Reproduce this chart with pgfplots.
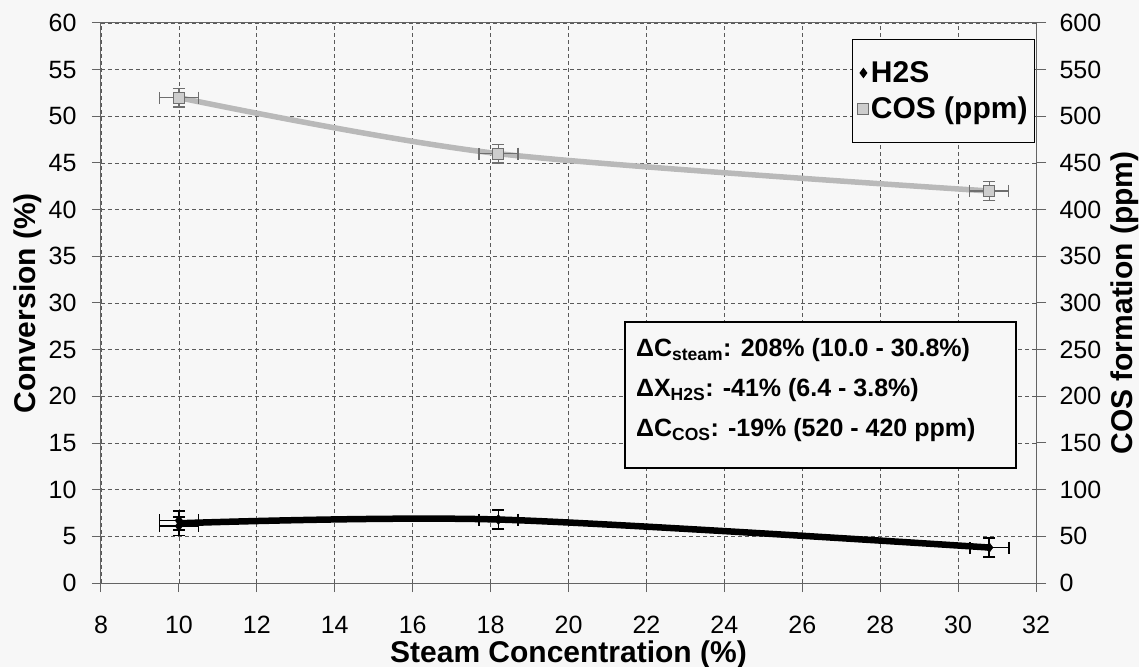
\documentclass[border=0pt]{standalone}
\usepackage{fontspec}
\setmainfont{Liberation Sans}
\usepackage{pgfplots}
\pgfplotsset{compat=1.18}
\usepackage{pgfplotstable}

\definecolor{bg}{RGB}{247,247,247}
\definecolor{gridc}{RGB}{90,90,90}
\definecolor{axisc}{RGB}{100,100,100}
\definecolor{cosline}{RGB}{185,185,185}
\definecolor{cosmark}{RGB}{205,205,205}
\definecolor{coserr}{RGB}{110,110,110}

% steam concentration (%), value, x error, y error
\pgfplotstableread{
x     y     ex    ey
10.0  6.7   0.5   1.0
10.0  6.1   0.5   1.0
18.2  6.8   0.5   1.0
30.8  3.8   0.5   1.0
}\hstable

\pgfplotstableread{
x     y     ex    ey
10.0  520   0.5   10
18.2  460   0.5   10
30.8  420   0.5   10
}\costable

\newcommand{\tickfont}{\fontsize{25bp}{27bp}\selectfont}
\newcommand{\labfont}{\fontsize{30bp}{32bp}\selectfont\bfseries}
\newcommand{\boxfont}{\fontsize{25bp}{27bp}\selectfont\bfseries}

\begin{document}
\begin{tikzpicture}
\path[use as bounding box, fill=bg] (-101bp,-84bp) rectangle (1038bp,583bp);

\begin{axis}[
  scale only axis,
  width=935bp, height=560bp,
  xmin=8, xmax=32, ymin=0, ymax=60,
  xtick={8,10,...,32},
  ytick={0,5,...,60},
  axis x line*=bottom,
  axis y line*=left,
  axis line style={axisc, line width=1bp, -},
  tick align=outside,
  major tick length=9bp,
  tick style={axisc, line width=1bp},
  grid=major,
  grid style={gridc, dash pattern=on 4bp off 3bp, line width=0.8bp},
  /pgf/number format/assume math mode=true,
  ticklabel style={font=\tickfont},
  xticklabel style={yshift=-21bp},
  yticklabel style={xshift=-12bp},
  xlabel={Steam Concentration (\%)},
  ylabel={Conversion (\%)},
  label style={font=\labfont},
  xlabel style={at={(axis description cs:0.5,-0.128)}, anchor=center},
  ylabel style={at={(axis description cs:-0.078,0.5)}, anchor=center},
  clip=false,
]
% frame along the top
\draw[axisc, line width=1bp] (rel axis cs:0,1) -- (rel axis cs:1,1);

% trendline through the H2S conversion data
\addplot[black, line width=6.5bp, smooth] coordinates {(10,6.4) (18.2,6.8) (30.8,3.8)};

\addplot[black, only marks, mark=diamond*, mark size=5bp,
  error bars/.cd, x dir=both, x explicit, y dir=both, y explicit,
  error bar style={black, line width=1.6bp},
  error mark options={black, line width=1.6bp, mark size=6bp, rotate=90}]
  table[x=x, y=y, x error=ex, y error=ey] {\hstable};

% summary box
\draw[black, fill=bg, line width=1.5bp] (axis cs:21.45,27.97) rectangle (axis cs:31.49,12.33);
\node[anchor=base west, inner sep=0pt, font=\boxfont]
  at (axis cs:21.73,24.22) {ΔC\textsubscript{steam}: 208\% (10.0 - 30.8\%)};
\node[anchor=base west, inner sep=0pt, font=\boxfont]
  at (axis cs:21.73,19.94) {ΔX\textsubscript{H2S}: -41\% (6.4 - 3.8\%)};
\node[anchor=base west, inner sep=0pt, font=\boxfont]
  at (axis cs:21.73,15.65) {ΔC\textsubscript{COS}: -19\% (520 - 420 ppm)};
\end{axis}

\begin{axis}[
  scale only axis,
  width=935bp, height=560bp,
  xmin=8, xmax=32, ymin=0, ymax=600,
  axis x line=none,
  axis y line*=right,
  axis line style={axisc, line width=1bp, -},
  ytick={0,50,...,600},
  tick align=outside,
  major tick length=10bp,
  tick style={axisc, line width=1bp},
  /pgf/number format/assume math mode=true,
  ticklabel style={font=\tickfont},
  yticklabel style={xshift=10bp},
  ylabel={COS formation (ppm)},
  label style={font=\labfont},
  ylabel style={at={(axis description cs:1.095,0.5)}, anchor=center},
  legend style={at={(rel axis cs:0.999,0.971)}, anchor=north east,
    draw=black, line width=1bp, fill=bg, font=\fontsize{30bp}{32bp}\selectfont\bfseries,
    row sep=9bp, inner xsep=5bp, inner ysep=20bp,
    /tikz/every even column/.append style={column sep=5bp}},
  legend cell align=left,
  clip=false,
]
\addlegendimage{only marks, mark=diamond*, mark size=4.5bp, black}
\addlegendentry{H2S}

% trendline through the COS data
\addplot[cosline, line width=5.5bp, smooth, forget plot] coordinates {(10,520) (18.2,460) (30.8,420)};

\addplot[only marks, mark=square*, mark size=5.5bp,
  mark options={fill=cosmark, draw=coserr, line width=1bp},
  error bars/.cd, x dir=both, x explicit, y dir=both, y explicit,
  error bar style={coserr, line width=1.4bp},
  error mark options={coserr, line width=1.4bp, mark size=6bp, rotate=90}]
  table[x=x, y=y, x error=ex, y error=ey] {\costable};
\addlegendentry{COS (ppm)}
\end{axis}
\end{tikzpicture}
\end{document}
